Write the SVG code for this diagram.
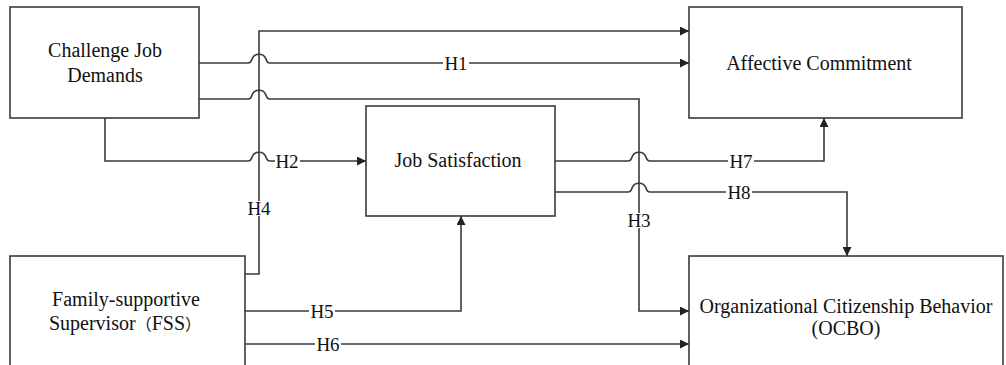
<svg xmlns="http://www.w3.org/2000/svg" width="1006" height="365" viewBox="0 0 1006 365">
<style>
.box{fill:#fff;stroke:#3a3a3a;stroke-width:1.6}
.t{font-family:"Liberation Serif","Times New Roman","Noto Sans CJK SC",serif;font-size:20px;fill:#111;text-anchor:middle}
.p{font-size:16px}
.c{fill:none;stroke:#3a3a3a;stroke-width:1.6}
.lb{fill:#fff}
.l{font-family:"Liberation Serif","Times New Roman",serif;font-size:19px;fill:#111;text-anchor:middle}
</style>
<defs>
<marker id="arr" viewBox="0 0 10 10" refX="10" refY="5" markerWidth="11" markerHeight="9" orient="auto" markerUnits="userSpaceOnUse">
<path d="M0,0 L10,5 L0,10 z" fill="#222"/>
</marker>
</defs>
<rect width="1006" height="365" fill="#fff"/>
<g id="connectors">
<path class="c" marker-end="url(#arr)" d="M245 274 H259 V31 H689"/>
<path class="c" marker-end="url(#arr)" d="M199 63 H248 Q251 63 252 59 A7.5 7.5 0 0 1 266 59 Q267 63 270 63 H689"/>
<path class="c" marker-end="url(#arr)" d="M199 99 H248 Q251 99 252 95 A7.5 7.5 0 0 1 266 95 Q267 99 270 99 H639 V311 H689"/>
<path class="c" marker-end="url(#arr)" d="M105 118 V161 H248 Q251 161 252 157 A7.5 7.5 0 0 1 266 157 Q267 161 270 161 H366"/>
<path class="c" marker-end="url(#arr)" d="M555 161 H628 Q631 161 632 157 A7.5 7.5 0 0 1 646 157 Q647 161 650 161 H824 V118"/>
<path class="c" marker-end="url(#arr)" d="M555 192 H628 Q631 192 632 188 A7.5 7.5 0 0 1 646 188 Q647 192 650 192 H847 V256"/>
<path class="c" marker-end="url(#arr)" d="M245 311 H461 V216"/>
<path class="c" marker-end="url(#arr)" d="M245 344 H689"/>
<rect class="lb" x="246" y="201" width="26" height="15"/>
<text class="l" x="259" y="215">H4</text>
<rect class="lb" x="443" y="55" width="26" height="15"/>
<text class="l" x="456" y="69.5">H1</text>
<rect class="lb" x="626" y="213" width="26" height="15"/>
<text class="l" x="639" y="227">H3</text>
<rect class="lb" x="275" y="154" width="25" height="15"/>
<text class="l" x="287" y="167.5">H2</text>
<rect class="lb" x="728" y="154" width="26" height="15"/>
<text class="l" x="741" y="167.5">H7</text>
<rect class="lb" x="726" y="185" width="26" height="15"/>
<text class="l" x="739" y="198.5">H8</text>
<rect class="lb" x="309" y="304" width="26" height="15"/>
<text class="l" x="322" y="317.5">H5</text>
<rect class="lb" x="315" y="337" width="26" height="15"/>
<text class="l" x="328" y="350.5">H6</text>
</g>
<g id="challenge">
<rect class="box" x="10" y="7" width="189" height="111"/>
<text class="t" x="105" y="57">Challenge Job</text>
<text class="t" x="105" y="82">Demands</text>
</g>
<g id="affective">
<rect class="box" x="689" y="7" width="273" height="111"/>
<text class="t" x="819" y="70">Affective Commitment</text>
</g>
<g id="jobsat">
<rect class="box" x="366" y="106" width="189" height="110"/>
<text class="t" x="458" y="167">Job Satisfaction</text>
</g>
<g id="fss">
<rect class="box" x="10" y="256" width="235" height="120"/>
<text class="t" x="126" y="306">Family-supportive</text>
<text class="t" x="125" y="330">Supervisor<tspan class="p">（</tspan>FSS<tspan class="p">）</tspan></text>
</g>
<g id="ocbo">
<rect class="box" x="689" y="256" width="314" height="120"/>
<text class="t" x="846" y="313">Organizational Citizenship Behavior</text>
<text class="t" x="846" y="335">(OCBO)</text>
</g>
</svg>
